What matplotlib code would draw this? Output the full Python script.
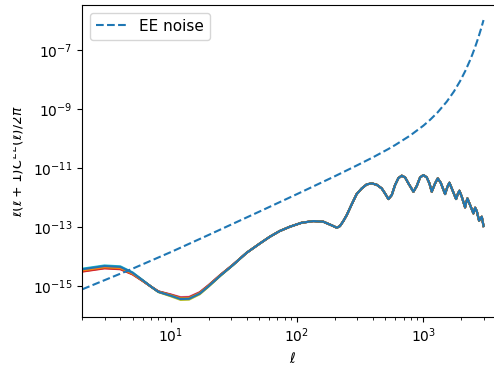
import numpy as np
import matplotlib
matplotlib.use("Agg")
import matplotlib.pyplot as plt
from matplotlib.patches import Rectangle

# ---- data (log10 of l(l+1)C_l/2pi) ----
ell_low = [2, 3, 4, 5, 6, 7, 8, 10, 12, 14, 17, 20, 25, 31, 40]
logD_low_c0 = [-14.44, -14.33, -14.36, -14.559, -14.811, -15.03, -15.206, -15.334, -15.45, -15.44, -15.266, -15.012, -14.638, -14.304, -13.88]
logD_low_c1 = [-14.48, -14.37, -14.40, -14.587, -14.823, -15.03, -15.20, -15.32, -15.43, -15.42, -15.25, -15.00, -14.63, -14.30, -13.88]
logD_low_c2 = [-14.47, -14.36, -14.39, -14.58, -14.82, -15.03, -15.20, -15.32, -15.43, -15.42, -15.25, -15.00, -14.63, -14.30, -13.88]
logD_low_c3 = [-14.52, -14.41, -14.44, -14.615, -14.835, -15.03, -15.191, -15.299, -15.40, -15.39, -15.226, -14.982, -14.618, -14.294, -13.88]
logD_low_c4 = [-14.49, -14.38, -14.41, -14.594, -14.826, -15.03, -15.194, -15.306, -15.41, -15.40, -15.234, -14.988, -14.622, -14.296, -13.88]
logD_low_c5 = [-14.50, -14.39, -14.42, -14.601, -14.829, -15.03, -15.197, -15.313, -15.42, -15.41, -15.242, -14.994, -14.626, -14.298, -13.88]
logD_low_c6 = [-14.51, -14.40, -14.43, -14.608, -14.832, -15.03, -15.187, -15.289, -15.385, -15.375, -15.214, -14.973, -14.612, -14.291, -13.88]
logD_low_c7 = [-14.46, -14.35, -14.38, -14.573, -14.817, -15.03, -15.203, -15.327, -15.44, -15.43, -15.258, -15.006, -14.634, -14.302, -13.88]
logD_low_c8 = [-14.49, -14.38, -14.41, -14.594, -14.826, -15.03, -15.215, -15.355, -15.48, -15.47, -15.29, -15.03, -14.65, -14.31, -13.88]
logD_low_c9 = [-14.42, -14.31, -14.34, -14.545, -14.805, -15.03, -15.209, -15.341, -15.46, -15.45, -15.274, -15.018, -14.642, -14.306, -13.88]

ell_high = [51, 61, 73, 88, 109, 135, 162, 189, 207, 219, 233, 248, 272, 297, 326,
            357, 391, 428, 469, 498, 530, 563, 598, 636, 676, 718, 763, 836, 888, 944,
            1003, 1066, 1119, 1167, 1241, 1302, 1375, 1489, 1554, 1611, 1681, 1819, 1876, 1933, 2018,
            2144, 2183, 2237, 2349, 2496, 2573, 2652, 2767, 2906, 3000]
logD_high = [-13.562, -13.336, -13.143, -12.996, -12.861, -12.804, -12.827, -12.951, -13.030, -12.974,
             -12.804, -12.600, -12.227, -11.888, -11.695, -11.559, -11.525, -11.571, -11.695, -11.865,
             -12.057, -11.922, -11.582, -11.344, -11.265, -11.322, -11.525, -11.808, -11.616, -11.322,
             -11.243, -11.322, -11.525, -11.808, -11.525, -11.356, -11.503, -11.888, -11.639, -11.503,
             -11.695, -12.057, -11.888, -11.774, -11.978, -12.340, -12.182, -12.035, -12.261, -12.544,
             -12.351, -12.465, -12.793, -12.657, -12.974]

ell_noise = [2, 5, 10, 20, 50, 100, 200, 300, 400, 530, 600, 787, 1000, 1132, 1300, 1535, 1750,
             1959, 2150, 2350, 2450, 2550, 2650, 2735, 2870, 2950, 3000]
logD_noise = [-15.12, -14.42, -13.86, -13.275, -12.49, -11.89, -11.28, -10.91, -10.64, -10.357, -10.222,
              -9.902, -9.569, -9.368, -9.114, -8.75, -8.404,
              -8.05, -7.711, -7.338, -7.144, -6.944, -6.740, -6.562, -6.270, -6.093, -5.981]

low_curves = [logD_low_c0, logD_low_c1, logD_low_c2, logD_low_c3, logD_low_c4,
              logD_low_c5, logD_low_c6, logD_low_c7, logD_low_c8, logD_low_c9]

# ---- figure ----
W, H = 494, 365
fig = plt.figure(figsize=(W / 100, H / 100), dpi=100)
ax = fig.add_axes([82.3 / W, (H - 316.7) / H, (503.6 - 82.3) / W, (316.7 - 5) / H])

ell_all = np.array(ell_low + ell_high, dtype=float)
n = len(low_curves)
for i, lc in enumerate(low_curves):
    ax.plot(ell_all, 10.0 ** np.array(lc + logD_high), color=f'C{i}',
            zorder=2 + (n - i) * 0.01)

ax.plot(ell_noise, 10.0 ** np.array(logD_noise), '--', color='C0', label='EE noise', zorder=2.5)

ax.set_xscale('log')
ax.set_yscale('log')
ax.set_xlim(2, 4325)
ax.set_ylim(10 ** -16.05, 10 ** -5.47)
ax.set_xlabel(r'$\ell$')
ax.set_ylabel(r'$\ell(\ell+1)C^{EE}(\ell)/2\pi$')
ax.legend(loc='upper left', fontsize=11)

# the reference image is cut off at its left edge
fig.patches.append(Rectangle((0, 0), 13 / W, 1, transform=fig.transFigure,
                             facecolor='white', edgecolor='none', zorder=10))

fig.savefig('out.png', dpi=100)
